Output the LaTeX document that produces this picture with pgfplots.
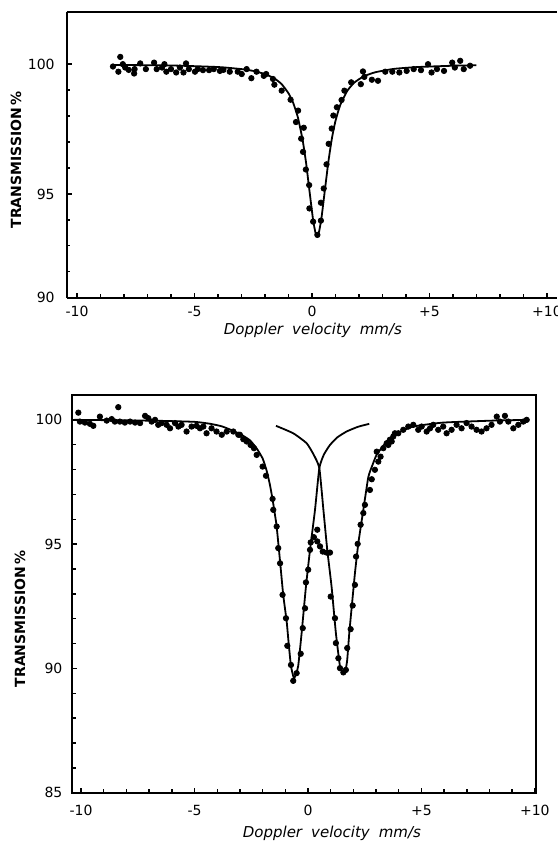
\documentclass[border=0pt]{standalone}
\usepackage{fontspec}
\setmainfont{DejaVu Sans}
\usepackage{pgfplots}
\pgfplotsset{compat=1.18}

\pgfplotstableread{
x y
-8.47 99.91
-8.16 100.28
-8.05 100.00
-8.24 99.71
-7.95 99.87
-7.80 99.78
-7.57 99.64
-7.55 99.81
-7.31 100.03
-7.07 99.81
-6.72 100.06
-6.61 99.81
-6.38 99.87
-6.28 100.00
-6.20 99.71
-6.00 99.81
-5.78 99.68
-5.62 99.87
-5.47 99.68
-5.36 100.03
-5.24 99.81
-4.98 99.71
-4.86 99.81
-4.64 99.77
-4.38 99.77
-4.18 99.81
-3.92 99.74
-3.77 99.78
-3.50 99.71
-3.16 99.71
-2.99 99.62
-2.78 99.81
-2.58 99.46
-2.36 99.71
-2.05 99.55
-1.95 99.62
-1.66 99.43
-1.60 99.21
-1.29 98.98
-0.91 98.63
-0.59 98.21
-0.68 97.77
-0.35 97.55
-0.46 97.13
-0.38 96.62
-0.26 95.94
-0.12 95.34
-0.11 94.44
0.05 93.93
0.23 93.42
0.38 93.97
0.38 94.66
0.50 95.21
0.62 96.14
0.71 96.93
0.84 97.52
0.91 98.02
1.06 98.34
1.26 98.62
1.38 98.98
1.67 99.30
2.08 99.23
2.17 99.72
2.23 99.51
2.55 99.40
2.81 99.36
3.12 99.71
3.42 99.71
3.72 99.68
4.03 99.74
4.33 99.81
4.64 99.77
4.94 100.00
5.09 99.68
5.32 99.81
5.62 99.74
5.97 100.06
6.08 99.87
6.31 100.13
6.46 99.81
6.73 99.94
}\topdata

\pgfplotstableread{
x y
-8.4 99.97
-6.0 99.95
-4.0 99.89
-3.0 99.81
-2.5 99.74
-2.0 99.62
-1.6 99.45
-1.3 99.24
-1.0 98.88
-0.8 98.51
-0.6 97.95
-0.4 97.09
-0.25 96.19
-0.1 95.07
0.05 93.98
0.15 93.50
0.22 93.40
0.3 93.54
0.4 94.04
0.55 95.15
0.7 96.25
0.85 97.15
1.0 97.81
1.2 98.42
1.5 98.97
1.8 99.29
2.2 99.53
2.7 99.69
3.5 99.82
4.5 99.89
6.0 99.94
7.0 99.96
}\topfit

\pgfplotstableread{
x y
-10.12 100.29
-10.05 99.93
-9.83 99.89
-9.61 99.84
-9.46 99.76
-9.17 100.13
-8.87 99.97
-8.65 100.03
-8.51 99.93
-8.36 100.51
-8.29 99.93
-8.07 99.89
-7.84 99.93
-7.62 99.89
-7.40 99.87
-7.18 100.16
-7.04 100.07
-6.89 99.93
-6.74 100.00
-6.60 99.80
-6.45 99.87
-6.23 99.80
-6.08 99.66
-5.86 99.87
-5.71 99.73
-5.57 99.80
-5.35 99.53
-5.13 99.73
-4.91 99.76
-4.76 99.66
-4.61 99.73
-4.47 99.46
-4.25 99.66
-4.03 99.53
-3.80 99.40
-3.58 99.53
-3.29 99.53
-3.07 99.40
-3.00 99.40
-2.85 99.22
-2.70 99.13
-2.53 98.99
-2.38 98.86
-2.26 98.59
-2.00 98.12
-1.85 97.75
-1.56 96.82
-1.53 96.38
-1.38 95.71
-1.31 94.84
-1.23 94.23
-1.12 92.96
-0.97 92.02
-0.91 90.91
-0.75 90.14
-0.50 89.81
-0.65 89.50
-0.32 90.59
-0.23 91.62
-0.13 92.42
-0.09 93.46
0.01 93.97
0.09 94.77
0.12 95.07
0.26 95.28
0.41 95.58
0.41 95.11
0.53 94.91
0.65 94.70
0.82 94.66
0.97 94.66
1.00 92.89
1.19 92.02
1.23 91.02
1.34 90.41
1.41 90.01
1.56 89.84
1.67 89.94
1.73 90.82
1.88 91.58
1.97 92.53
2.07 93.36
2.12 94.50
2.19 95.01
2.32 95.78
2.44 96.25
2.51 96.58
2.73 97.18
2.81 97.61
2.95 97.99
3.03 98.72
3.10 98.32
3.20 98.52
3.32 98.86
3.47 99.06
3.54 98.99
3.61 99.20
3.69 99.13
3.76 99.33
3.83 99.46
3.98 99.46
4.20 99.60
4.42 99.73
4.64 99.80
4.86 99.60
5.01 99.73
5.23 99.53
5.38 99.66
5.52 99.80
5.74 99.60
5.96 99.73
6.11 99.46
6.33 99.60
6.55 99.80
6.77 99.66
6.99 99.87
7.21 99.73
7.43 99.60
7.65 99.53
7.87 99.66
8.09 99.80
8.32 100.13
8.46 99.93
8.68 100.16
8.83 99.93
9.05 99.66
9.27 99.80
9.49 99.93
9.64 100.00
}\botdata

\pgfplotstableread{
x y
-10.3 100.00
-8.0 99.98
-6.5 99.96
-5.0 99.92
-4.3 99.84
-3.8 99.74
-3.3 99.56
-2.9 99.38
-2.56 99.18
-2.26 98.85
-2.0 98.45
-1.82 97.95
-1.68 97.40
-1.56 96.80
-1.45 96.15
-1.38 95.71
-1.23 94.30
-1.09 92.95
-0.94 91.90
-0.85 91.00
-0.75 90.10
-0.62 89.60
-0.52 89.80
-0.43 90.10
-0.28 91.42
-0.09 93.29
0.09 94.77
0.31 96.38
0.50 98.06
0.70 98.60
0.97 98.99
1.30 99.30
1.70 99.53
2.20 99.72
2.70 99.84
}\botL

\pgfplotstableread{
x y
-1.41 99.76
-0.65 99.46
-0.06 99.06
0.25 98.60
0.50 98.06
0.68 96.38
0.85 94.77
1.04 93.29
1.23 91.42
1.41 90.08
1.50 89.88
1.58 89.85
1.66 89.95
1.73 90.35
1.82 91.42
1.93 92.49
2.07 93.83
2.22 95.04
2.44 96.38
2.66 97.70
2.85 98.20
3.03 98.60
3.47 99.13
3.91 99.45
4.64 99.73
5.96 99.89
8.17 99.97
9.70 100.00
}\botR

\pgfplotsset{
  common/.style={
    scale only axis,
    tick align=inside,
    major tick length=2.4pt,
    minor tick length=1.8pt,
    axis line style={line width=0.9pt},
    every tick/.style={line width=0.7pt, black},
    tick label style={font=\fontsize{7}{8}\selectfont},
    /pgf/number format/assume math mode=true,
    xtick={-10,-5,0,5,10},
    xticklabels={-10,-5,0,+5,+10},
    minor xtick={-9,-8,-7,-6,-4,-3,-2,-1,1,2,3,4,6,7,8,9},
    xlabel={Doppler\hspace{0.6em}velocity\hspace{0.6em}mm/s},
    ylabel={TRANSMISSION\,\%},
  },
  pts/.style={only marks, mark=*, mark size=1.35pt, black},
  fit/.style={no marks, line width=0.9pt, black, smooth, tension=0.3},
}

\begin{document}
\begin{tikzpicture}

% ---------- top panel ----------
\begin{axis}[common,
  at={(33.35pt,273.15pt)}, anchor=south west,
  width=245.15pt, height=142.7pt,
  xmin=-10.44, xmax=10.43, ymin=91, ymax=102,
  axis x line*=bottom, axis y line*=left,
  ytick={91,95,100}, yticklabels={90,95,100},
  minor ytick={92,93,94,96,97,98,99},
  xticklabel style={yshift=-0.9pt},
  yticklabel style={xshift=-2.5pt},
  every axis x label/.style={at={(axis description cs:0.502,0)}, yshift=-16.2pt, anchor=center, font=\itshape\fontsize{7.5}{9}\selectfont},
  every axis y label/.style={at={(axis description cs:0,0.482)}, xshift=-25.3pt, rotate=90, anchor=center, font=\bfseries\fontsize{7}{8}\selectfont},
  after end axis/.code={\draw[line width=0.9pt] (rel axis cs:0,1) -- (rel axis cs:1,1);},
]
\addplot[fit] table {\topfit};
\addplot[pts] table {\topdata};
\end{axis}

% ---------- bottom panel ----------
\begin{axis}[common,
  at={(36pt,25.65pt)}, anchor=south west,
  width=232pt, height=198.85pt,
  xmin=-10.4, xmax=10.05, ymin=85, ymax=101,
  tick pos=left,
  ytick={85,90,95,100},
  yticklabels={85,90,95,100},
  minor ytick={86,87,88,89,91,92,93,94,96,97,98,99},
  xticklabel style={yshift=-2.8pt},
  yticklabel style={xshift=-1.3pt},
  every axis x label/.style={at={(axis description cs:0.56,0)}, yshift=-20.2pt, anchor=center, font=\itshape\fontsize{7.5}{9}\selectfont},
  every axis y label/.style={at={(axis description cs:0,0.437)}, xshift=-26pt, rotate=90, anchor=center, font=\bfseries\fontsize{7}{8}\selectfont},
]
\addplot[fit] table {\botL};
\addplot[fit] table {\botR};
\addplot[pts] table {\botdata};
\end{axis}

\pgfresetboundingbox
\path[use as bounding box] (0pt,0pt) rectangle (278.5pt,422pt);
\end{tikzpicture}
\end{document}
